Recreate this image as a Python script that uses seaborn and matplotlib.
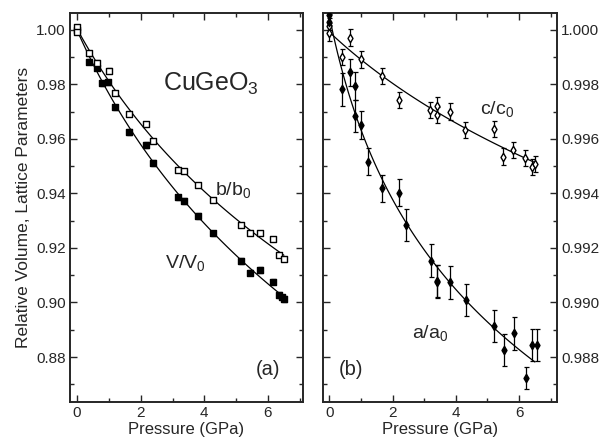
import numpy as np
import matplotlib
matplotlib.use('Agg')
import matplotlib.pyplot as plt
import seaborn as sns
from matplotlib.ticker import MultipleLocator

# Data
# (a) relative volume and b lattice parameter
p_left = [0.0, 0.39, 0.62, 0.78, 0.96, 1.2, 1.64, 2.16, 2.38, 3.16, 3.35, 3.79,
          4.26, 5.15, 5.45, 5.76, 6.15, 6.34, 6.43, 6.5]
v_v0 = [1.000, 0.9884, 0.9862, 0.9804, 0.9807, 0.9716, 0.9625, 0.9578, 0.9511, 0.9386,
        0.9372, 0.9317, 0.9254, 0.9153, 0.9109, 0.9119, 0.9076, 0.9027, 0.9021, 0.9012]
v_err = [0.0008, 0.0010, 0.0009, 0.0010, 0.0010, 0.0010, 0.0010, 0.0012, 0.0010, 0.0010,
         0.0012, 0.0010, 0.0010, 0.0010, 0.0010, 0.0010, 0.0010, 0.0010, 0.0008, 0.0010]

p_b = [0.0, 0.0, 0.39, 0.62, 0.99, 1.2, 1.64, 2.16, 2.38, 3.16, 3.35, 3.79, 4.26,
       5.15, 5.45, 5.76, 6.15, 6.34, 6.5]
b_b0 = [1.0011, 0.9993, 0.9914, 0.9880, 0.9850, 0.9770, 0.9692, 0.9655, 0.9593, 0.9486,
        0.9484, 0.9431, 0.9376, 0.9284, 0.9256, 0.9256, 0.9232, 0.9174, 0.9159]
b_err = [0.0007, 0.0007, 0.0008, 0.0008, 0.0010, 0.0007, 0.0008, 0.0008, 0.0008, 0.0007,
         0.0007, 0.0007, 0.0007, 0.0007, 0.0007, 0.0007, 0.0007, 0.0007, 0.0007]

# (b) c and a lattice parameters
p_c = [-0.02, 0.0, 0.40, 0.64, 1.0, 1.67, 2.19, 3.2, 3.41, 3.41, 3.83, 4.3,
       5.2, 5.5, 5.8, 6.2, 6.41, 6.52]
c_c0 = [1.00015, 0.99988, 0.9990, 0.99972, 0.99892, 0.99831, 0.99743, 0.99706, 0.99722,
        0.99688, 0.99700, 0.99633, 0.99636, 0.99535, 0.99560, 0.99529, 0.99498, 0.99507]
c_err = [0.0003, 0.0003, 0.0003, 0.0003, 0.0003, 0.0003, 0.0003, 0.0003, 0.0003,
         0.0003, 0.0003, 0.0003, 0.0003, 0.0003, 0.0003, 0.0003, 0.0003, 0.0003]

p_a = [0.0, 0.0, 0.40, 0.64, 0.80, 0.80, 1.0, 1.21, 1.67, 2.19, 2.42, 3.23, 3.41, 3.41,
       3.83, 4.33, 5.22, 5.52, 5.83, 6.22, 6.41, 6.57]
a_a0 = [1.00055, 1.0003, 0.99782, 0.99845, 0.99794, 0.99684, 0.99651, 0.99517, 0.99419,
        0.99403, 0.99284, 0.99153, 0.99079, 0.99076, 0.99074, 0.99009, 0.98914, 0.98826,
        0.98887, 0.98722, 0.98844, 0.98844]
a_err = [0.0003, 0.0003, 0.0006, 0.0005, 0.0005, 0.0006, 0.0005, 0.0005, 0.0005, 0.0005,
         0.0006, 0.0006, 0.0006, 0.0006, 0.0006, 0.0006, 0.0006, 0.0006, 0.0006, 0.0004,
         0.0006, 0.0006]

sns.set_style('ticks')
plt.rcParams['font.family'] = ['Liberation Sans', 'DejaVu Sans']
plt.rcParams['mathtext.fontset'] = 'custom'
plt.rcParams['mathtext.rm'] = 'Liberation Sans'
plt.rcParams['mathtext.it'] = 'Liberation Sans'

fig = plt.figure(figsize=(6.11, 4.40), dpi=100)
ax1 = fig.add_axes([0.1146, 0.0864, 0.3813, 0.8841])
ax2 = fig.add_axes([0.5286, 0.0864, 0.3830, 0.8841])


def fit_line(ax, x, y, x_end):
    # Murnaghan-like curve y = c0 - n*ln(1 + k*P), least squares over k
    x = np.asarray(x)
    y = np.asarray(y)
    best = None
    for k in np.linspace(0.02, 3.0, 300):
        A = np.column_stack([np.ones_like(x), np.log1p(k * x)])
        coef, res, _, _ = np.linalg.lstsq(A, y, rcond=None)
        r = np.sum((A @ coef - y) ** 2)
        if best is None or r < best[0]:
            best = (r, k, coef)
    _, k, coef = best
    xx = np.linspace(0, x_end, 100)
    ax.plot(xx, coef[0] + coef[1] * np.log1p(k * xx), color='black', lw=0.9, zorder=2)


def points(ax, x, y, err, marker, filled, size):
    ax.errorbar(x, y, yerr=err, fmt='none', ecolor='black', elinewidth=0.9,
                capsize=1.8, capthick=0.9, zorder=3)
    sns.scatterplot(x=x, y=y, ax=ax, marker=marker, s=size,
                    facecolor='black' if filled else 'white',
                    edgecolor='black', linewidth=1.0, zorder=4)


# panel (a)
fit_line(ax1, p_left, v_v0, 6.5)
fit_line(ax1, p_b, b_b0, 6.5)
points(ax1, p_left, v_v0, v_err, 's', True, 17)
points(ax1, p_b, b_b0, b_err, 's', False, 17)
ax1.set_xlim(-0.22, 7.1)
ax1.set_ylim(0.8635, 1.0062)
ax1.yaxis.set_major_locator(MultipleLocator(0.02))
ax1.yaxis.set_minor_locator(MultipleLocator(0.01))
ax1.yaxis.set_major_formatter(plt.FormatStrFormatter('%.2f'))
ax1.set_ylabel('Relative Volume, Lattice Parameters', fontsize=12.5, labelpad=4)
ax1.text(2.7, 0.9775, 'CuGeO$_3$', fontsize=18)
ax1.text(4.35, 0.9395, 'b/b$_0$', fontsize=14)
ax1.text(2.75, 0.9125, 'V/V$_0$', fontsize=14)
ax1.text(5.6, 0.8735, '(a)', fontsize=14.5)

# panel (b)
fit_line(ax2, p_c, c_c0, 6.52)
fit_line(ax2, p_a, a_a0, 6.5)
points(ax2, p_c, c_c0, c_err, 'd', False, 18)
points(ax2, p_a, a_a0, a_err, 'd', True, 18)
ax2.set_xlim(-0.2, 7.2)
ax2.set_ylim(0.98635, 1.00062)
ax2.yaxis.set_major_locator(MultipleLocator(0.002))
ax2.yaxis.set_minor_locator(MultipleLocator(0.001))
ax2.yaxis.set_major_formatter(plt.FormatStrFormatter('%.3f'))
ax2.yaxis.tick_right()
ax2.text(4.75, 0.9969, 'c/c$_0$', fontsize=14)
ax2.text(2.6, 0.9887, 'a/a$_0$', fontsize=14)
ax2.text(0.3, 0.98735, '(b)', fontsize=14.5)

for ax in (ax1, ax2):
    ax.set_xlabel('Pressure (GPa)', fontsize=12, labelpad=1)
    ax.xaxis.set_major_locator(MultipleLocator(2))
    ax.xaxis.set_minor_locator(MultipleLocator(1))
    ax.tick_params(which='both', direction='in', top=True, bottom=True,
                   left=True, right=True, labelsize=11, width=1.0, pad=3)
    ax.tick_params(which='major', length=5)
    ax.tick_params(which='minor', length=3)
    for s in ax.spines.values():
        s.set_linewidth(1.4)
ax2.tick_params(labelleft=False, labelright=True)

fig.savefig('out.png', dpi=100)
